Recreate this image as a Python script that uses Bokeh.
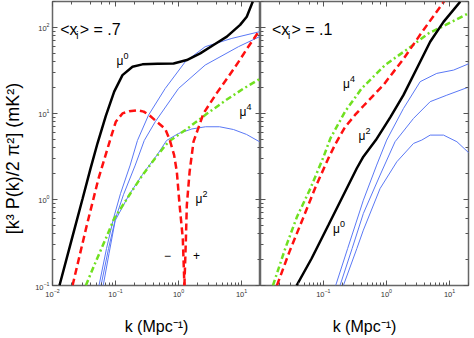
from bokeh.plotting import figure
from bokeh.layouts import row
from bokeh.models import LogAxis, Range1d
from bokeh.core.properties import value
from bokeh.embed import file_html
from bokeh.resources import INLINE

# ---------------- data: left panel  <x_i> = .7 ----------------
L_black_k = [0.0129, 0.02, 0.03, 0.04, 0.0518, 0.07, 0.0953, 0.129, 0.186, 0.268, 0.464, 0.834, 1.355, 2.21, 3.59, 5.85, 9.5, 12.1, 15.1]
L_black_v = [0.1, 0.335, 1.02, 2.27, 4.5, 9.3, 17.9, 27.9, 34.9, 37.2, 37.9, 38.1, 41.7, 49.9, 62.4, 78, 107, 133, 200]

L_red_neg_k = [0.0208, 0.035, 0.0537, 0.0834, 0.101, 0.129, 0.165, 0.223, 0.28, 0.343, 0.615, 0.72, 0.85, 0.94, 1.04, 1.17, 1.24]
L_red_neg_v = [0.1, 0.50, 1.75, 5.1, 8.0, 10.0, 10.6, 10.9, 10.5, 9.55, 6.6, 5.0, 3.3, 2.1, 0.86, 0.35, 0.1]
L_red_pos_k = [1.24, 1.31, 1.355, 1.50, 1.73, 2.49, 4.01, 6.22, 8.95, 12.9, 19.3]
L_red_pos_v = [0.1, 0.35, 0.86, 2.1, 4.7, 10.0, 17.1, 26.9, 39.7, 60.1, 92.3]

L_green_k = [0.0338, 0.0487, 0.0702, 0.0953, 0.165, 0.268, 0.464, 0.693, 1.355, 2.81, 5.85, 10.8, 19.3]
L_green_v = [0.1, 0.19, 0.352, 0.60, 1.12, 1.92, 3.27, 4.69, 6.6, 9.9, 14.5, 19.5, 25.0]

L_blueA_k = [0.0547, 0.0720, 0.0929, 0.120, 0.171, 0.223, 0.334, 0.615, 1.28, 2.65, 7.02, 19.3]
L_blueA_v = [0.1, 0.269, 0.601, 1.17, 2.51, 4.85, 9.55, 19.5, 39.9, 59.7, 74.5, 89.1]
L_blueB_k = [0.0589, 0.0775, 0.1, 0.134, 0.206, 0.286, 0.427, 1.0, 2.65, 8.95, 19.3]
L_blueB_v = [0.1, 0.269, 0.601, 1.14, 2.51, 4.85, 8.0, 19.5, 36.5, 59.7, 78.0]
L_blueC_k = [0.0638, 0.0789, 0.0989, 0.165, 0.268, 0.464, 0.646, 1.0, 1.63, 2.69, 4.48, 7.46, 12.0, 19.3]
L_blueC_v = [0.1, 0.235, 0.570, 1.14, 1.95, 3.34, 4.85, 5.85, 6.6, 7.0, 7.0, 6.5, 5.7, 4.69]

# ---------------- data: right panel  <x_i> = .1 ----------------
R_black_k = [0.0377, 0.0652, 0.12, 0.2075, 0.338, 0.431, 0.68, 1.15, 1.86, 3.03, 4.94, 8.04, 14.8]
R_black_v = [0.1, 0.206, 0.502, 1.12, 2.29, 3.14, 4.9, 9.0, 16.3, 33.3, 68, 116, 199]

R_red_k = [0.0184, 0.029, 0.047, 0.077, 0.12, 0.155, 0.22, 0.318, 0.431, 0.895, 1.86, 3.87, 8.2]
R_red_v = [0.1, 0.246, 0.59, 1.45, 3.0, 4.4, 6.9, 9.6, 12.2, 21.4, 43, 93.5, 200]

R_green_k = [0.0159, 0.0249, 0.0383, 0.0623, 0.101, 0.129, 0.221, 0.405, 0.953, 2.23, 4.64, 8.55, 20.0]
R_green_v = [0.1, 0.269, 0.63, 1.34, 3.14, 5.1, 10.5, 19.5, 36.5, 57, 85, 106, 146]

R_blueU_k = [0.157, 0.243, 0.431, 0.701, 1.01, 1.86, 3.43, 6.28, 11.6, 20.7]
R_blueU_v = [0.1, 0.269, 0.98, 2.51, 4.9, 11.4, 23.4, 29.2, 31.9, 38.1]
R_blueM_k = [0.184, 0.286, 0.431, 0.794, 1.37, 2.69, 4.94, 9.06, 20.7]
R_blueM_v = [0.1, 0.269, 0.687, 1.92, 4.69, 8.75, 13.7, 16.3, 20.4]
R_blueL_k = [0.208, 0.340, 0.431, 0.794, 1.46, 2.69, 3.63, 4.94, 8.04, 13.1, 20.7]
R_blueL_v = [0.1, 0.269, 0.44, 1.34, 2.74, 4.48, 4.9, 5.6, 5.6, 4.69, 3.43]

# ---------------- labels ----------------
L_title = ".7"
R_title = ".1"
L_title_pos = (0.01324, 94.8)
R_title_pos = (0.01535, 94.8)
L_mu_k = [0.1037, 9.29, 1.86]
L_mu_v = [40.3, 10.5, 1.0]
L_mu_exp = ["0", "4", "2"]
L_sign_k = [0.668, 1.93]
L_sign_v = [0.223, 0.223]
L_sign_t = ["\u2212", "+"]
R_mu_k = [0.2056, 0.36, 0.1426]
R_mu_v = [21.7, 5.41, 0.448]
R_mu_exp = ["4", "2", "0"]

X_LABEL = "k (Mpc\u207b\u00b9)"
Y_LABEL = "[k\u00b3 P(k)/2 \u03c0\u00b2]  (mK\u00b2)" + "\u00a0" * 5

FONT = "Liberation Sans"
BLACK = "#000000"
RED = "#ff1010"
GREEN = "#70e020"
BLUE = "#5a78f5"


def make_fig(left):
    p = figure(x_axis_type="log", y_axis_type="log",
               x_range=Range1d(0.01 if left else 0.0101, 20),
               y_range=Range1d(0.1, 200),
               frame_width=208, frame_height=284,
               output_backend="svg", toolbar_location=None,
               min_border_left=51 if left else 0,
               min_border_right=0 if left else 2,
               min_border_top=1, min_border_bottom=47)
    p.grid.visible = False
    p.outline_line_color = "#666666"
    p.outline_line_width = 1.5
    p.background_fill_color = "white"
    p.border_fill_color = "white"
    p.add_layout(LogAxis(), "above")
    p.add_layout(LogAxis(), "right")
    for ax in p.axis:
        ax.axis_line_color = None
        ax.major_tick_in = 5
        ax.major_tick_out = 0
        ax.minor_tick_in = 3
        ax.minor_tick_out = 0
        ax.major_tick_line_color = "#555555"
        ax.minor_tick_line_color = "#555555"
        ax.major_label_text_font = FONT
        ax.major_label_text_font_size = "1px"
        ax.major_label_text_color = None
        ax.major_label_standoff = 0
    bx = p.below[0]
    bx.major_label_text_font_size = "7.5px"
    bx.major_label_text_color = "#333333"
    bx.major_label_standoff = 3
    bx.axis_label = X_LABEL
    bx.axis_label_text_font = FONT
    bx.axis_label_text_font_style = "normal"
    bx.axis_label_text_font_size = "16px"
    bx.axis_label_standoff = 18
    bx.axis_label_text_color = "black"
    if left:
        ly = p.left[0]
        ly.major_label_text_font_size = "7.5px"
        ly.major_label_text_color = "#333333"
        ly.major_label_standoff = 3
        ly.axis_label = Y_LABEL
        ly.axis_label_text_font = FONT
        ly.axis_label_text_font_style = "normal"
        ly.axis_label_text_font_size = "18px"
        ly.axis_label_standoff = 9
        ly.axis_label_text_color = "black"
    return p


def title(p, pos, val):
    x, y = [pos[0]], [pos[1]]
    p.text(x=x, y=y, text=["<x"], text_font=value(FONT), text_font_size=value("16px"),
           text_align="left", text_baseline="alphabetic", text_color="black")
    p.text(x=x, y=y, text=["i"], text_font=value(FONT), text_font_size=value("10px"),
           text_align="left", text_baseline="alphabetic", text_color="black",
           x_offset=16, y_offset=6)
    p.text(x=x, y=y, text=["> = " + val], text_font=value(FONT), text_font_size=value("16px"),
           text_align="left", text_baseline="alphabetic", text_color="black", x_offset=19.5)


def mu_labels(p, ks, vs, exps):
    p.text(x=ks, y=vs, text=["\u03bc"] * len(ks), text_font=value(FONT), text_font_size=value("12px"),
           text_align="left", text_baseline="alphabetic", text_color="black")
    p.text(x=ks, y=vs, text=exps, text_font=value(FONT), text_font_size=value("9px"),
           text_align="left", text_baseline="alphabetic", text_color="black",
           x_offset=7, y_offset=-5)


DASH_RED = "7 4"
DASH_GREEN = "6 3 2 3"

# ---- left panel
p1 = make_fig(True)
for kk, vv in [(L_blueA_k, L_blueA_v), (L_blueB_k, L_blueB_v), (L_blueC_k, L_blueC_v)]:
    p1.line(kk, vv, line_color=BLUE, line_width=1)
p1.line(L_green_k, L_green_v, line_color=GREEN, line_width=2.5, line_dash=DASH_GREEN)
p1.line(L_red_neg_k, L_red_neg_v, line_color=RED, line_width=2.5, line_dash=DASH_RED)
p1.line(L_red_pos_k, L_red_pos_v, line_color=RED, line_width=2.5, line_dash=DASH_RED)
p1.line(L_black_k, L_black_v, line_color=BLACK, line_width=2.5)
title(p1, L_title_pos, L_title)
mu_labels(p1, L_mu_k, L_mu_v, L_mu_exp)
p1.text(x=L_sign_k, y=L_sign_v, text=L_sign_t, text_font=value(FONT), text_font_size=value("12px"),
        text_align="center", text_baseline="middle", text_color="black")

# ---- right panel
p2 = make_fig(False)
for kk, vv in [(R_blueU_k, R_blueU_v), (R_blueM_k, R_blueM_v), (R_blueL_k, R_blueL_v)]:
    p2.line(kk, vv, line_color=BLUE, line_width=1)
p2.line(R_green_k, R_green_v, line_color=GREEN, line_width=2.5, line_dash=DASH_GREEN)
p2.line(R_red_k, R_red_v, line_color=RED, line_width=2.5, line_dash=DASH_RED)
p2.line(R_black_k, R_black_v, line_color=BLACK, line_width=2.5)
title(p2, R_title_pos, R_title)
mu_labels(p2, R_mu_k, R_mu_v, R_mu_exp)

layout = row(p1, p2)
open("out.html", "w").write(file_html(layout, INLINE))
